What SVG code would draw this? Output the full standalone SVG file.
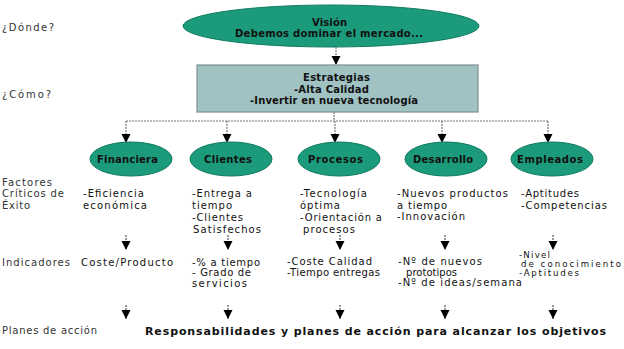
<svg xmlns="http://www.w3.org/2000/svg" width="624" height="349" viewBox="0 0 624 349">
<style>
text{font-family:"DejaVu Sans",Verdana,sans-serif;fill:#111;}
.t{font-size:10px;font-weight:bold;}
.b{font-size:10px;}
.sm{font-size:8.6px;}
.l{font-size:10px;fill:#333;}
.ell{fill:#1b9b7b;stroke:#0f7a5e;stroke-width:1;}
.rect{fill:#a0c2c2;stroke:#7f9090;stroke-width:1.2;}
.c{stroke:#777;stroke-width:1.2;stroke-dasharray:2 1;fill:none;}
.s{stroke:#333;stroke-width:1;stroke-dasharray:2 1;fill:none;}
.r{font-size:11px;font-weight:bold;}
</style>
<defs>
<marker id="ah" markerUnits="userSpaceOnUse" markerWidth="10" markerHeight="10" refX="9" refY="4.5" orient="auto">
<path d="M0,0 L9,4.5 L0,9 z" fill="#000"/>
</marker>
</defs>
<rect width="624" height="349" fill="#fff"/>

<g id="labels">
<text class="l" x="2" y="31" textLength="52" lengthAdjust="spacing">¿Dónde?</text>
<text class="l" x="2" y="98" textLength="49" lengthAdjust="spacing">¿Cómo?</text>
<text class="l" x="2" y="186" textLength="50" lengthAdjust="spacing">Factores</text>
<text class="l" x="2" y="197" textLength="62" lengthAdjust="spacing">Críticos de</text>
<text class="l" x="2" y="209" textLength="28" lengthAdjust="spacing">Éxito</text>
<text class="l" x="2" y="266" textLength="68" lengthAdjust="spacing">Indicadores</text>
<text class="l" x="2" y="334" textLength="95" lengthAdjust="spacing">Planes de acción</text>
</g>

<g id="connectors">
<line class="c" x1="336" y1="47" x2="336" y2="65" marker-end="url(#ah)"/>
<polyline class="c" points="334,112 334,121"/>
<line class="c" x1="126" y1="121" x2="548" y2="121"/>
<line class="c" x1="126" y1="121" x2="126" y2="143" marker-end="url(#ah)"/>
<line class="c" x1="227" y1="121" x2="227" y2="143" marker-end="url(#ah)"/>
<line class="c" x1="335" y1="121" x2="335" y2="143" marker-end="url(#ah)"/>
<line class="c" x1="442" y1="121" x2="442" y2="143" marker-end="url(#ah)"/>
<line class="c" x1="548" y1="121" x2="548" y2="143" marker-end="url(#ah)"/>
<line class="s" x1="126" y1="235" x2="126" y2="250" marker-end="url(#ah)"/>
<line class="s" x1="228" y1="235" x2="228" y2="250" marker-end="url(#ah)"/>
<line class="s" x1="340" y1="235" x2="340" y2="250" marker-end="url(#ah)"/>
<line class="s" x1="445" y1="235" x2="445" y2="250" marker-end="url(#ah)"/>
<line class="s" x1="553" y1="235" x2="553" y2="250" marker-end="url(#ah)"/>
<line class="s" x1="126" y1="305" x2="126" y2="319" marker-end="url(#ah)"/>
<line class="s" x1="228" y1="305" x2="228" y2="319" marker-end="url(#ah)"/>
<line class="s" x1="340" y1="305" x2="340" y2="319" marker-end="url(#ah)"/>
<line class="s" x1="445" y1="305" x2="445" y2="319" marker-end="url(#ah)"/>
<line class="s" x1="553" y1="305" x2="553" y2="319" marker-end="url(#ah)"/>
</g>

<g id="vision">
<ellipse class="ell" cx="331" cy="26" rx="148" ry="21"/>
<text class="t" x="329.5" y="26" text-anchor="middle" textLength="35" lengthAdjust="spacing">Visión</text>
<text class="t" x="329" y="37" text-anchor="middle" textLength="188" lengthAdjust="spacing">Debemos dominar el mercado...</text>
</g>

<g id="estrategias">
<rect class="rect" x="197" y="65" width="281" height="47"/>
<text class="t" x="336.5" y="81" text-anchor="middle" textLength="67" lengthAdjust="spacing">Estrategias</text>
<text class="t" x="331.5" y="93" text-anchor="middle" textLength="75" lengthAdjust="spacing">-Alta Calidad</text>
<text class="t" x="334" y="104" text-anchor="middle" textLength="168" lengthAdjust="spacing">-Invertir en nueva tecnología</text>
</g>

<g id="financiera">
<ellipse class="ell" cx="131" cy="159" rx="41" ry="17"/>
<text class="t" x="127.5" y="163" text-anchor="middle" textLength="61" lengthAdjust="spacing">Financiera</text>
<text class="b" x="83" y="197" textLength="61" lengthAdjust="spacing">-Eficiencia</text>
<text class="b" x="83" y="209" textLength="64" lengthAdjust="spacing">económica</text>
<text class="b" x="81" y="266" textLength="92" lengthAdjust="spacing">Coste/Producto</text>
</g>

<g id="clientes">
<ellipse class="ell" cx="231" cy="159" rx="41" ry="17"/>
<text class="t" x="228" y="163" text-anchor="middle" textLength="48" lengthAdjust="spacing">Clientes</text>
<text class="b" x="192" y="197" textLength="60" lengthAdjust="spacing">-Entrega a</text>
<text class="b" x="192" y="209" textLength="40" lengthAdjust="spacing">tiempo</text>
<text class="b" x="192" y="221" textLength="51" lengthAdjust="spacing">-Clientes</text>
<text class="b" x="193" y="233" textLength="68" lengthAdjust="spacing">Satisfechos</text>
<text class="b" x="192" y="266" textLength="68" lengthAdjust="spacing">-% a tiempo</text>
<text class="b" x="192" y="276" textLength="59" lengthAdjust="spacing">- Grado de</text>
<text class="b" x="192" y="287" textLength="55" lengthAdjust="spacing">servicios</text>
</g>

<g id="procesos">
<ellipse class="ell" cx="339" cy="159" rx="41" ry="17"/>
<text class="t" x="335.5" y="163" text-anchor="middle" textLength="55" lengthAdjust="spacing">Procesos</text>
<text class="b" x="300" y="197" textLength="67" lengthAdjust="spacing">-Tecnología</text>
<text class="b" x="300" y="209" textLength="40" lengthAdjust="spacing">óptima</text>
<text class="b" x="300" y="221" textLength="82" lengthAdjust="spacing">-Orientación a</text>
<text class="b" x="303" y="233" textLength="52" lengthAdjust="spacing">procesos</text>
<text class="b" x="287" y="265" textLength="85" lengthAdjust="spacing">-Coste Calidad</text>
<text class="b" x="287" y="276" textLength="93" lengthAdjust="spacing">-Tiempo entregas</text>
</g>

<g id="desarrollo">
<ellipse class="ell" cx="446" cy="159" rx="41" ry="17"/>
<text class="t" x="443" y="163" text-anchor="middle" textLength="60" lengthAdjust="spacing">Desarrollo</text>
<text class="b" x="397" y="197" textLength="111" lengthAdjust="spacing">-Nuevos productos</text>
<text class="b" x="397" y="209" textLength="50" lengthAdjust="spacing">a tiempo</text>
<text class="b" x="397" y="220" textLength="68" lengthAdjust="spacing">-Innovación</text>
<text class="b" x="398" y="265" textLength="84" lengthAdjust="spacing">-Nº de nuevos</text>
<text class="b" x="406" y="275.5" textLength="51" lengthAdjust="spacing">prototipos</text>
<text class="b" x="398" y="286" textLength="124" lengthAdjust="spacing">-Nº de ideas/semana</text>
</g>

<g id="empleados">
<ellipse class="ell" cx="552" cy="159" rx="41" ry="17"/>
<text class="t" x="550" y="163" text-anchor="middle" textLength="66" lengthAdjust="spacing">Empleados</text>
<text class="b" x="521" y="197" textLength="58" lengthAdjust="spacing">-Aptitudes</text>
<text class="b" x="521" y="209" textLength="86" lengthAdjust="spacing">-Competencias</text>
<text class="sm" x="519" y="258" textLength="31" lengthAdjust="spacing">-Nivel</text>
<text class="sm" x="521" y="267" textLength="100" lengthAdjust="spacing">de conocimiento</text>
<text class="sm" x="519" y="276" textLength="60" lengthAdjust="spacing">-Aptitudes</text>
</g>

<g id="planes">
<text class="r" x="145" y="335" textLength="461" lengthAdjust="spacing">Responsabilidades y planes de acción para alcanzar los objetivos</text>
</g>
</svg>
